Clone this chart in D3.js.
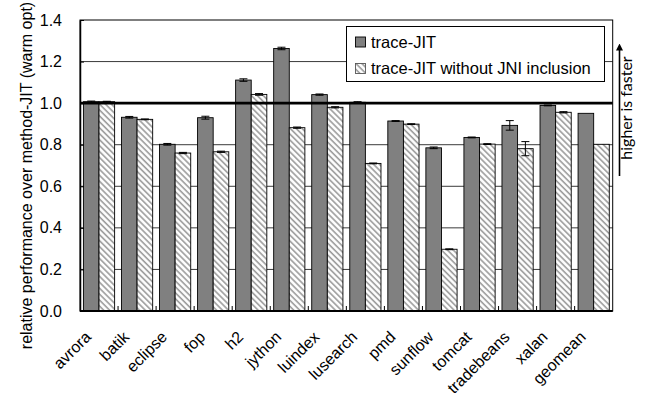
<!DOCTYPE html>
<html>
<head>
<meta charset="utf-8">
<script src="https://cdn.jsdelivr.net/npm/d3@7"></script>
<style>
  html, body { margin: 0; padding: 0; background: #fff; }
  svg { display: block; }
  text { font-family: "Liberation Sans", Arial, sans-serif; fill: #000; }
</style>
</head>
<body>
<svg id="chart" width="646" height="396"></svg>
<script>
const categories = ["avrora", "batik", "eclipse", "fop", "h2", "jython", "luindex", "lusearch", "pmd", "sunflow", "tomcat", "tradebeans", "xalan", "geomean"];
const seriesNames = ["trace-JIT", "trace-JIT without JNI inclusion"];
const traceJIT = [1.007, 0.932, 0.802, 0.930, 1.111, 1.263, 1.041, 1.004, 0.914, 0.785, 0.835, 0.893, 0.989, 0.951];
const traceJITNoJNI = [1.007, 0.922, 0.760, 0.766, 1.042, 0.882, 0.980, 0.710, 0.899, 0.297, 0.803, 0.781, 0.956, 0.802];
const traceJITErr = [0.003, 0.004, 0.004, 0.007, 0.006, 0.006, 0.003, 0.003, 0.002, 0.004, 0.002, 0.023, 0.002, null];
const traceJITNoJNIErr = [0.002, 0.002, 0.003, 0.003, 0.004, 0.003, 0.003, 0.002, 0.002, 0.002, 0.002, 0.034, 0.003, null];
const yTicks = [0.0, 0.2, 0.4, 0.6, 0.8, 1.0, 1.2, 1.4];
const yTitle = "relative performance over method-JIT (warm opt)";
const arrowLabel = "higher is faster";
const referenceValue = 1.0;

const svg = d3.select("#chart");
const margin = {left: 80, right: 33.3, top: 20, bottom: 85};
const W = 646, H = 396;
const x0 = margin.left, x1 = W - margin.right, yTop = margin.top, yBot = H - margin.bottom;

const x = d3.scaleBand().domain(categories).range([x0, x1]).paddingInner(0.18).paddingOuter(0.09);
const xs = d3.scaleBand().domain(seriesNames).range([0, x.bandwidth()]);
const y = d3.scaleLinear().domain([0, 1.4]).range([yBot, yTop]);

// hatch pattern
const defs = svg.append("defs");
const pat = defs.append("pattern").attr("id", "hatch").attr("patternUnits", "userSpaceOnUse")
  .attr("width", 4.2).attr("height", 4.2).attr("patternTransform", "rotate(-45)");
pat.append("rect").attr("width", 4.2).attr("height", 4.2).attr("fill", "#fff");
pat.append("line").attr("x1", 1).attr("x2", 1).attr("y1", 0).attr("y2", 4.2)
  .attr("stroke", "#9a9a9a").attr("stroke-width", 1.6);

const fills = ["#808080", "url(#hatch)"];

// gridlines (behind)
svg.append("g").selectAll("line").data(yTicks.filter(d => d > 0 && d < 1.4 && d !== referenceValue)).join("line")
  .attr("x1", x0).attr("x2", x1).attr("y1", d => y(d)).attr("y2", d => y(d))
  .attr("stroke", "#3a3a3a").attr("stroke-width", 1);

// bars
const series = [traceJIT, traceJITNoJNI];
const errs = [traceJITErr, traceJITNoJNIErr];
const barData = [];
categories.forEach((c, i) => {
  seriesNames.forEach((s, j) => {
    barData.push({c, s, v: series[j][i], e: errs[j][i], j});
  });
});

svg.append("g").selectAll("rect").data(barData).join("rect")
  .attr("x", d => x(d.c) + xs(d.s))
  .attr("width", xs.bandwidth())
  .attr("y", d => y(d.v))
  .attr("height", d => y(0) - y(d.v))
  .attr("fill", d => fills[d.j])
  .attr("stroke", "#000").attr("stroke-width", 0.9);

// error bars
const eg = svg.append("g").attr("stroke", "#000").attr("stroke-width", 1);
barData.filter(d => d.e != null).forEach(d => {
  const cx = x(d.c) + xs(d.s) + xs.bandwidth() / 2;
  eg.append("line").attr("x1", cx).attr("x2", cx).attr("y1", y(d.v - d.e)).attr("y2", y(d.v + d.e));
  eg.append("line").attr("x1", cx - 4).attr("x2", cx + 4).attr("y1", y(d.v - d.e)).attr("y2", y(d.v - d.e));
  eg.append("line").attr("x1", cx - 4).attr("x2", cx + 4).attr("y1", y(d.v + d.e)).attr("y2", y(d.v + d.e));
});

// reference line at 1.0
svg.append("line").attr("x1", x0).attr("x2", x1).attr("y1", y(referenceValue)).attr("y2", y(referenceValue))
  .attr("stroke", "#000").attr("stroke-width", 2.6);

// frame
svg.append("rect").attr("x", x0).attr("y", yTop).attr("width", x1 - x0).attr("height", yBot - yTop)
  .attr("fill", "none").attr("stroke", "#000").attr("stroke-width", 1);

// y axis
const yAxis = d3.axisLeft(y).tickValues(yTicks).tickFormat(d3.format(".1f")).tickSizeInner(-4).tickSizeOuter(0).tickPadding(18);
const gy = svg.append("g").attr("transform", `translate(${x0},0)`).call(yAxis);
gy.select(".domain").attr("stroke", "#000").attr("stroke-width", 1.5);
gy.selectAll(".tick line").attr("stroke", "#000");
gy.selectAll("text").style("font-size", "16px").style("font-family", "Liberation Sans, Arial, sans-serif").attr("fill", "#000");

// x axis: bottom line, category separator ticks, rotated labels
svg.append("line").attr("x1", x0).attr("x2", x1).attr("y1", yBot).attr("y2", yBot).attr("stroke", "#000").attr("stroke-width", 2);
const step = x.step();
svg.append("g").selectAll("line").data(categories.slice(1)).join("line")
  .attr("x1", d => x(d) - x.paddingInner() * step / 2).attr("x2", d => x(d) - x.paddingInner() * step / 2)
  .attr("y1", yBot).attr("y2", yBot - 5).attr("stroke", "#000").attr("stroke-width", 1);

svg.append("g").selectAll("text").data(categories).join("text")
  .attr("transform", d => `translate(${x(d) + x.bandwidth() / 2 - 7},${yBot + 27}) rotate(-45)`)
  .attr("text-anchor", "end")
  .style("font-size", "16px")
  .text(d => d);

// y title
svg.append("text")
  .attr("transform", `translate(32,${(yTop + yBot) / 2 + 10}) rotate(-90)`)
  .attr("text-anchor", "middle")
  .style("font-size", "16px")
  .text(yTitle);

// legend
const lg = svg.append("g");
lg.append("rect").attr("x", 346.5).attr("y", 26.5).attr("width", 258).attr("height", 55)
  .attr("fill", "#fff").attr("stroke", "#000").attr("stroke-width", 1);
seriesNames.forEach((s, j) => {
  const ly = 37 + j * 26.5;
  lg.append("rect").attr("x", 355.5).attr("y", ly).attr("width", 10).attr("height", 10)
    .attr("fill", fills[j]).attr("stroke", j === 0 ? "#000" : "#555").attr("stroke-width", 0.9);
  lg.append("text").attr("x", 371).attr("y", ly + 10.5).style("font-size", "16.5px").text(s);
});

// higher is faster arrow
defs.append("marker").attr("id", "arrowhead").attr("viewBox", "0 0 10 10").attr("refX", 5).attr("refY", 5)
  .attr("markerWidth", 7).attr("markerHeight", 7).attr("orient", "auto-start-reverse")
  .attr("markerUnits", "userSpaceOnUse")
  .append("path").attr("d", "M0,0 L10,5 L0,10 Z").attr("fill", "#000");
svg.append("line").attr("x1", 619.5).attr("x2", 619.5).attr("y1", 176).attr("y2", 47)
  .attr("stroke", "#000").attr("stroke-width", 1.6).attr("marker-end", "url(#arrowhead)");
svg.append("text")
  .attr("transform", `translate(632,108) rotate(-90)`)
  .attr("text-anchor", "middle")
  .style("font-size", "16px")
  .style("font-family", "Lato, 'Open Sans', sans-serif")
  .text(arrowLabel);
</script>
</body>
</html>
